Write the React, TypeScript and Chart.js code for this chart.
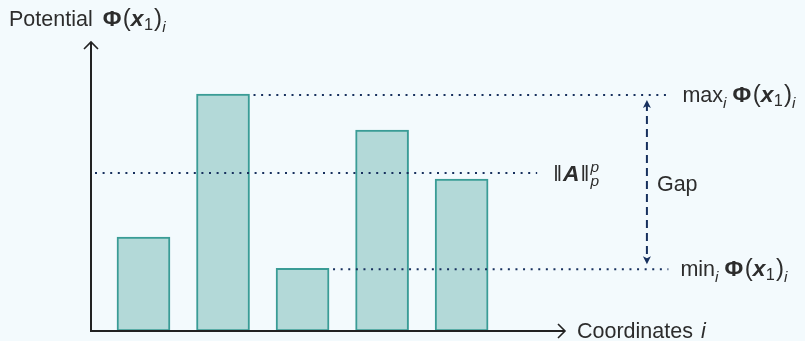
import React, { useEffect, useRef } from "react";
import { Chart, registerables } from "chart.js";

Chart.register(...registerables);

// Coordinates i and the potential Φ(x1)_i at each one
const coordinates = [1, 2, 3, 4, 5];
const potentials = [3.25, 8.2, 2.17, 6.95, 5.26];
// ‖A‖_p^p reference level
const normValue = 5.47;

// axis ranges (in data units)
const yMin = 0;
const yMax = 10;
const xMin = 0.34;
const xMax = 6.3;
// horizontal extents of the guide lines (in coordinate units)
const normLineEnd = 5.95;
const guideLineEnd = 7.6;
const gapArrowAt = 7.33;

const FONT = '"Liberation Sans", Arial, sans-serif';
const BASE = 21.5;
const TEXT = "#2d2d2d";
const AXIS = "#222222";
const NAVY = "#17305e";
const BG = "#f3fafd";

type Seg = {
  t?: string;
  w?: "n" | "b" | "i" | "bi";
  s?: number;
  dy?: number;
  pad?: number;
  stack?: [Seg, Seg];
};

function fontFor(seg: Seg) {
  const w = seg.w ?? "n";
  const size = BASE * (seg.s ?? 1);
  const italic = w === "i" || w === "bi" ? "italic " : "";
  const bold = w === "b" || w === "bi" ? "bold " : "";
  return `${italic}${bold}${size}px ${FONT}`;
}

function drawRich(ctx: CanvasRenderingContext2D, segs: Seg[], x: number, baseline: number) {
  let cx = x;
  ctx.textAlign = "left";
  ctx.textBaseline = "alphabetic";
  for (const seg of segs) {
    if (seg.stack) {
      let wMax = 0;
      for (const part of seg.stack) {
        ctx.font = fontFor(part);
        ctx.fillText(part.t ?? "", cx, baseline + (part.dy ?? 0));
        wMax = Math.max(wMax, ctx.measureText(part.t ?? "").width);
      }
      cx += wMax + (seg.pad ?? 0);
    } else {
      ctx.font = fontFor(seg);
      ctx.fillText(seg.t ?? "", cx, baseline + (seg.dy ?? 0));
      cx += ctx.measureText(seg.t ?? "").width + (seg.pad ?? 0);
    }
  }
}

const phiX1i: Seg[] = [
  { t: "Φ", w: "b", s: 1.06, pad: 1.5 },
  { t: "(", s: 1.12 },
  { t: "x", w: "bi", s: 1.06, pad: 0.5 },
  { t: "1", s: 0.76, dy: 4, pad: 1 },
  { t: ")", s: 1.12 },
  { t: "i", w: "i", s: 0.72, dy: 6 },
];

const yTitle: Seg[] = [{ t: "Potential ", pad: 4 }, ...phiX1i];
const xTitle: Seg[] = [{ t: "Coordinates ", pad: 2 }, { t: "i", w: "i" }];
const maxLabel: Seg[] = [{ t: "max" }, { t: "i", w: "i", s: 0.72, dy: 6, pad: 6 }, ...phiX1i];
const minLabel: Seg[] = [{ t: "min" }, { t: "i", w: "i", s: 0.72, dy: 6, pad: 6 }, ...phiX1i];
const normLabel: Seg[] = [
  { t: "‖", pad: 1 },
  { t: "A", w: "bi", s: 1.06, pad: 1 },
  { t: "‖", pad: 1 },
  { stack: [{ t: "p", w: "i", s: 0.72, dy: -9 }, { t: "p", w: "i", s: 0.72, dy: 5 }] },
];
const gapLabel: Seg[] = [{ t: "Gap" }];

function openArrow(ctx: CanvasRenderingContext2D, tipX: number, tipY: number, dir: "up" | "right") {
  ctx.beginPath();
  if (dir === "up") {
    ctx.moveTo(tipX - 7, tipY + 7);
    ctx.quadraticCurveTo(tipX - 2, tipY + 2, tipX, tipY);
    ctx.quadraticCurveTo(tipX + 2, tipY + 2, tipX + 7, tipY + 7);
  } else {
    ctx.moveTo(tipX - 7, tipY - 7);
    ctx.quadraticCurveTo(tipX - 2, tipY - 2, tipX, tipY);
    ctx.quadraticCurveTo(tipX - 2, tipY + 2, tipX - 7, tipY + 7);
  }
  ctx.stroke();
}

function solidHead(ctx: CanvasRenderingContext2D, x: number, tipY: number, up: boolean) {
  const d = up ? 1 : -1;
  ctx.beginPath();
  ctx.moveTo(x, tipY);
  ctx.lineTo(x - 4, tipY + d * 8);
  ctx.lineTo(x, tipY + d * 6);
  ctx.lineTo(x + 4, tipY + d * 8);
  ctx.closePath();
  ctx.fill();
}

const backgroundPlugin = {
  id: "pageBackground",
  beforeDraw(chart: Chart) {
    const { ctx, width, height } = chart;
    ctx.save();
    ctx.fillStyle = BG;
    ctx.fillRect(0, 0, width, height);
    ctx.restore();
  },
};

const annotationPlugin = {
  id: "gapAnnotations",
  afterDatasetsDraw(chart: Chart) {
    const { ctx, chartArea } = chart;
    const xs = chart.scales.x;
    const ys = chart.scales.y;
    const meta = chart.getDatasetMeta(0);

    let maxIdx = 0;
    let minIdx = 0;
    potentials.forEach((v, i) => {
      if (v > potentials[maxIdx]) maxIdx = i;
      if (v < potentials[minIdx]) minIdx = i;
    });
    const maxEl: any = meta.data[maxIdx];
    const minEl: any = meta.data[minIdx];
    const yMaxPx = ys.getPixelForValue(potentials[maxIdx]) + 1;
    const yMinPx = ys.getPixelForValue(potentials[minIdx]) + 1;
    const yNormPx = ys.getPixelForValue(normValue);
    const guideEnd = xs.getPixelForValue(guideLineEnd);
    const normEnd = xs.getPixelForValue(normLineEnd);
    const gapX = xs.getPixelForValue(gapArrowAt);

    ctx.save();
    // dotted guide lines
    ctx.strokeStyle = NAVY;
    ctx.lineWidth = 2;
    ctx.setLineDash([2, 5.6]);
    const dotted = (x0: number, x1: number, y: number) => {
      ctx.beginPath();
      ctx.moveTo(x0 + 4, y);
      ctx.lineTo(x1, y);
      ctx.stroke();
    };
    dotted(maxEl.x + maxEl.width / 2, guideEnd, yMaxPx);
    dotted(minEl.x + minEl.width / 2, guideEnd, yMinPx);
    dotted(chartArea.left, normEnd, yNormPx);

    // dashed double-headed gap arrow
    ctx.setLineDash([8, 5]);
    ctx.beginPath();
    ctx.moveTo(gapX, yMaxPx + 8);
    ctx.lineTo(gapX, yMinPx - 8);
    ctx.stroke();
    ctx.setLineDash([]);
    ctx.fillStyle = NAVY;
    solidHead(ctx, gapX, yMaxPx + 5, true);
    solidHead(ctx, gapX, yMinPx - 5, false);

    // axes with open arrow tips
    ctx.strokeStyle = AXIS;
    ctx.lineWidth = 2;
    ctx.lineCap = "butt";
    ctx.beginPath();
    ctx.moveTo(chartArea.left, chartArea.bottom);
    ctx.lineTo(chartArea.left, chartArea.top);
    ctx.moveTo(chartArea.left - 1, chartArea.bottom);
    ctx.lineTo(chartArea.right, chartArea.bottom);
    ctx.stroke();
    ctx.lineWidth = 1.6;
    openArrow(ctx, chartArea.left, chartArea.top, "up");
    openArrow(ctx, chartArea.right, chartArea.bottom, "right");

    // text
    ctx.fillStyle = TEXT;
    drawRich(ctx, yTitle, 9, chartArea.top - 16);
    drawRich(ctx, xTitle, chartArea.right + 12, chartArea.bottom + 7);
    drawRich(ctx, maxLabel, guideEnd + 14, yMaxPx + 7);
    drawRich(ctx, minLabel, guideEnd + 12, yMinPx + 7);
    drawRich(ctx, normLabel, normEnd + 16, yNormPx + 8);
    drawRich(ctx, gapLabel, gapX + 10, (yMaxPx + yMinPx) / 2 + 9);
    ctx.restore();
  },
};

export default function App() {
  const canvasRef = useRef<HTMLCanvasElement | null>(null);

  useEffect(() => {
    const canvas = canvasRef.current;
    if (!canvas) return;
    const chart = new Chart(canvas, {
      type: "bar",
      data: {
        datasets: [
          {
            data: coordinates.map((c, i) => ({ x: c, y: potentials[i] })),
            backgroundColor: "#b3d9d8",
            borderColor: "#3a9c96",
            borderWidth: 2,
            borderSkipped: false,
            barThickness: 53,
          },
        ],
      },
      options: {
        responsive: false,
        animation: false,
        devicePixelRatio: 1,
        layout: { padding: { left: 91, right: 240, top: 42, bottom: 10 } },
        scales: {
          x: { type: "linear", min: xMin, max: xMax, offset: false, display: false },
          y: { type: "linear", min: yMin, max: yMax, display: false },
        },
        plugins: {
          legend: { display: false },
          tooltip: { enabled: false },
        },
      },
      plugins: [backgroundPlugin, annotationPlugin],
    });
    return () => chart.destroy();
  }, []);

  return (
    <div style={{ position: "fixed", left: 0, top: 0, width: 805, height: 341, background: BG }}>
      <canvas ref={canvasRef} width={805} height={341} style={{ display: "block" }} />
    </div>
  );
}
